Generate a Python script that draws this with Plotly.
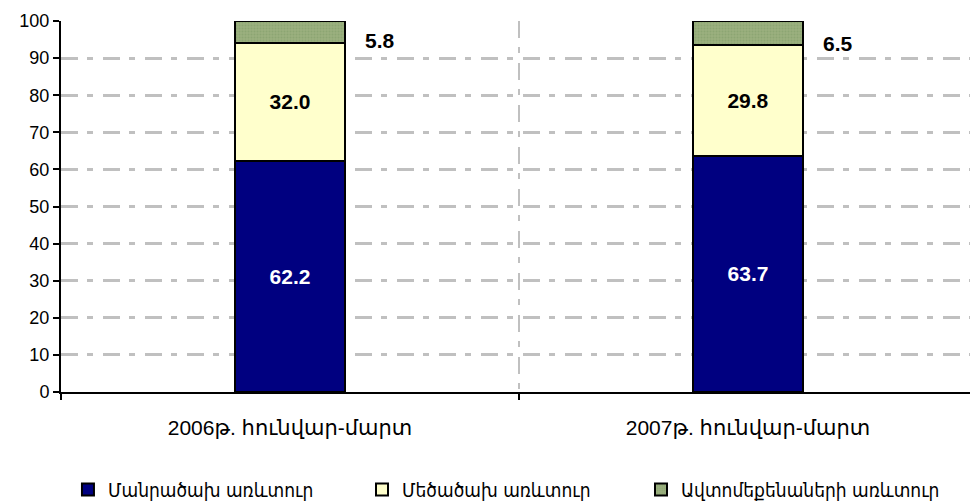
import plotly.graph_objects as go

categories = ["2006թ. հունվար-մարտ", "2007թ. հունվար-մարտ"]
series_names = ["Մանրածախ առևտուր", "Մեծածախ առևտուր", "Ավտոմեքենաների առևտուր"]
retail = [62.2, 63.7]
wholesale = [32.0, 29.8]
cars = [5.8, 6.5]
y_ticks = [0, 10, 20, 30, 40, 50, 60, 70, 80, 90, 100]

FONT = "Arial, Liberation Sans, DejaVu Sans"
ARM = "DejaVu Sans Condensed, DejaVu Sans"
GRID_DASH = "17px,9px,6px,10px"

fig = go.Figure()
fig.add_trace(go.Bar(
    x=categories, y=retail, name=series_names[0], legend="legend",
    marker=dict(color="#000080", line=dict(color="black", width=2)),
    text=[f"<b>{v:.1f}</b>" for v in retail], textposition="inside", insidetextanchor="middle",
    textfont=dict(color="white", size=21, family=FONT),
))
fig.add_trace(go.Bar(
    x=categories, y=wholesale, name=series_names[1], legend="legend2",
    marker=dict(color="#FFFFCC", line=dict(color="black", width=2)),
    text=[f"<b>{v:.1f}</b>" for v in wholesale], textposition="inside", insidetextanchor="middle",
    textfont=dict(color="black", size=21, family=FONT),
))
fig.add_trace(go.Bar(
    x=categories, y=cars, name=series_names[2], legend="legend3",
    marker=dict(color="#9BB07E", line=dict(color="black", width=2),
                pattern=dict(shape=".", fgcolor="#7E9A68", size=3, solidity=0.4)),
    textposition="none",
))

for c, r, w, a in zip(categories, retail, wholesale, cars):
    fig.add_annotation(x=c, y=r + w + 0.5, text=f"<b>{a:.1f}</b>", showarrow=False,
                       xshift=90, font=dict(size=21, color="black", family=FONT))

leg_common = dict(orientation="h", xanchor="left", y=-0.212, yanchor="top",
                  font=dict(size=19, family=ARM), itemwidth=30, bgcolor="rgba(0,0,0,0)")

fig.update_layout(
    barmode="stack",
    bargap=0.76,
    width=977, height=502,
    margin=dict(l=61, r=0, t=21, b=110, autoexpand=False),
    plot_bgcolor="white", paper_bgcolor="white",
    font=dict(family=FONT, size=18, color="black"),
    legend=dict(x=0.0076, **leg_common),
    legend2=dict(x=0.3286, **leg_common),
    legend3=dict(x=0.6332, **leg_common),
    showlegend=True,
)
fig.update_xaxes(
    showline=True, linecolor="black", linewidth=2,
    ticks="outside", tickson="boundaries", ticklen=6, tickcolor="black", tickwidth=2,
    showgrid=True, gridcolor="#C0C0C0", griddash=GRID_DASH, gridwidth=2,
    tickfont=dict(size=21, family=FONT), automargin=False, ticklabelstandoff=16,
)
fig.update_yaxes(
    range=[0, 100], tickvals=y_ticks,
    showline=True, linecolor="black", linewidth=2,
    ticks="outside", ticklen=6, tickcolor="black", tickwidth=2,
    showgrid=True, gridcolor="#C0C0C0", griddash=GRID_DASH, gridwidth=2.5,
    tickfont=dict(size=18, family=FONT), zeroline=False, automargin=False,
)

fig.write_html("out.html", config={"displayModeBar": False},
               post_script="document.body.style.margin='0';document.body.style.overflow='hidden';")
